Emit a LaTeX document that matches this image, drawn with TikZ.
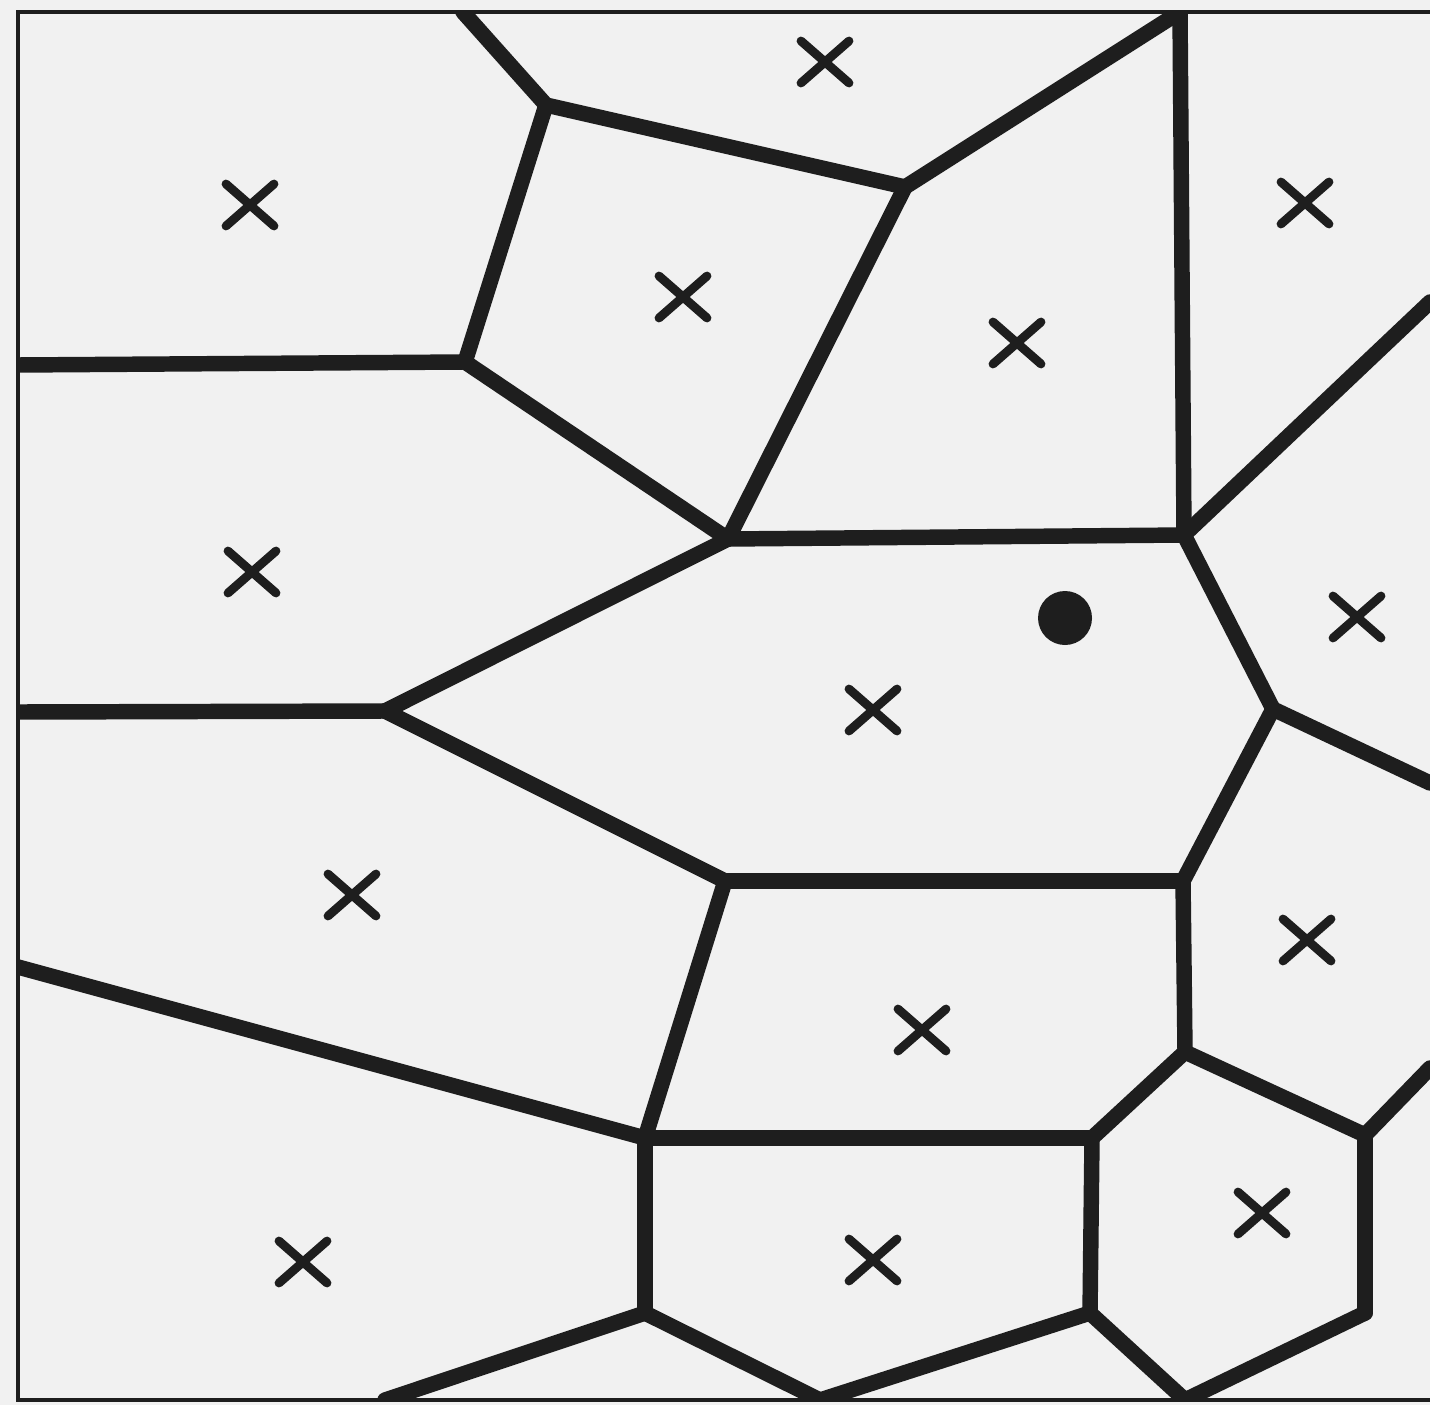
\documentclass[tikz,border=0pt]{standalone}
\usepackage{xcolor}
\usepackage{tikz}
\definecolor{paper}{HTML}{F1F1F1}
\definecolor{ink}{HTML}{1E1E1E}
\tikzset{
  frame/.style={ink, line width=0.9pt},
  edge/.style={ink, line width=4.4pt, line cap=round, line join=round},
  site/.style={ink, line width=2.5pt, line cap=round}
}

\begin{document}
\begin{tikzpicture}
  \useasboundingbox (0,0) rectangle (14.3,14.05);
  \fill[paper] (0,0) rectangle (14.3,14.05);
  % frame (open to the right)
  \draw[frame] (14.3,13.93) -- (0.18,13.93) -- (0.18,0.05) -- (14.3,0.05);
  % Voronoi vertices
  \coordinate (a0) at (4.63,13.93);  \coordinate (d) at (11.80,13.93);
  \coordinate (b) at (5.46,13.00);   \coordinate (c) at (9.05,12.18);
  \coordinate (e) at (11.84,8.70);   \coordinate (f) at (14.30,11.03);
  \coordinate (g) at (7.28,8.66);    \coordinate (h) at (4.65,10.43);
  \coordinate (h0) at (0.18,10.40);  \coordinate (i) at (3.85,6.94);
  \coordinate (i0) at (0.18,6.93);   \coordinate (j) at (7.25,5.24);
  \coordinate (k) at (11.83,5.24);   \coordinate (l) at (12.73,6.96);
  \coordinate (m) at (14.30,6.22);   \coordinate (n) at (11.85,3.53);
  \coordinate (o) at (13.65,2.70);   \coordinate (o1) at (14.30,3.37);
  \coordinate (p) at (10.92,2.67);   \coordinate (q) at (6.45,2.67);
  \coordinate (q0) at (0.18,4.38);   \coordinate (r) at (6.45,0.92);
  \coordinate (r0) at (3.85,0.05);   \coordinate (s) at (8.20,0.05);
  \coordinate (t) at (10.90,0.92);   \coordinate (u) at (11.85,0.05);
  \coordinate (v) at (13.65,0.92);
  % cell edges
  \begin{scope}
    \clip (0.18,0.05) rectangle (14.3,13.93);
    \foreach \from/\to in {a0/b, b/c, c/d, d/e, e/f, b/h, h0/h, h/g, c/g, g/e,
        i0/i, i/g, i/j, j/k, e/l, l/m, l/k, k/n, n/o, o/o1, n/p, j/q, q0/q,
        q/p, q/r, r/r0, r/s, p/t, t/s, t/u, o/v, v/u}
      \draw[edge] (\from) -- (\to);
  \end{scope}
  % sites
  \foreach \x/\y in {2.50/12.00, 8.25/13.43, 6.83/11.08, 13.05/12.02, 10.17/10.62,
      2.52/8.33, 13.57/7.88, 8.73/6.95, 3.52/5.10, 13.07/4.65, 9.22/3.75,
      12.62/1.92, 3.03/1.43, 8.73/1.45}
    \draw[site] (\x,\y) +(-0.24,-0.21) -- +(0.24,0.21) +(-0.24,0.21) -- +(0.24,-0.21);
  % query point
  \fill[ink] (10.65,7.87) circle (0.27);
\end{tikzpicture}
\end{document}
